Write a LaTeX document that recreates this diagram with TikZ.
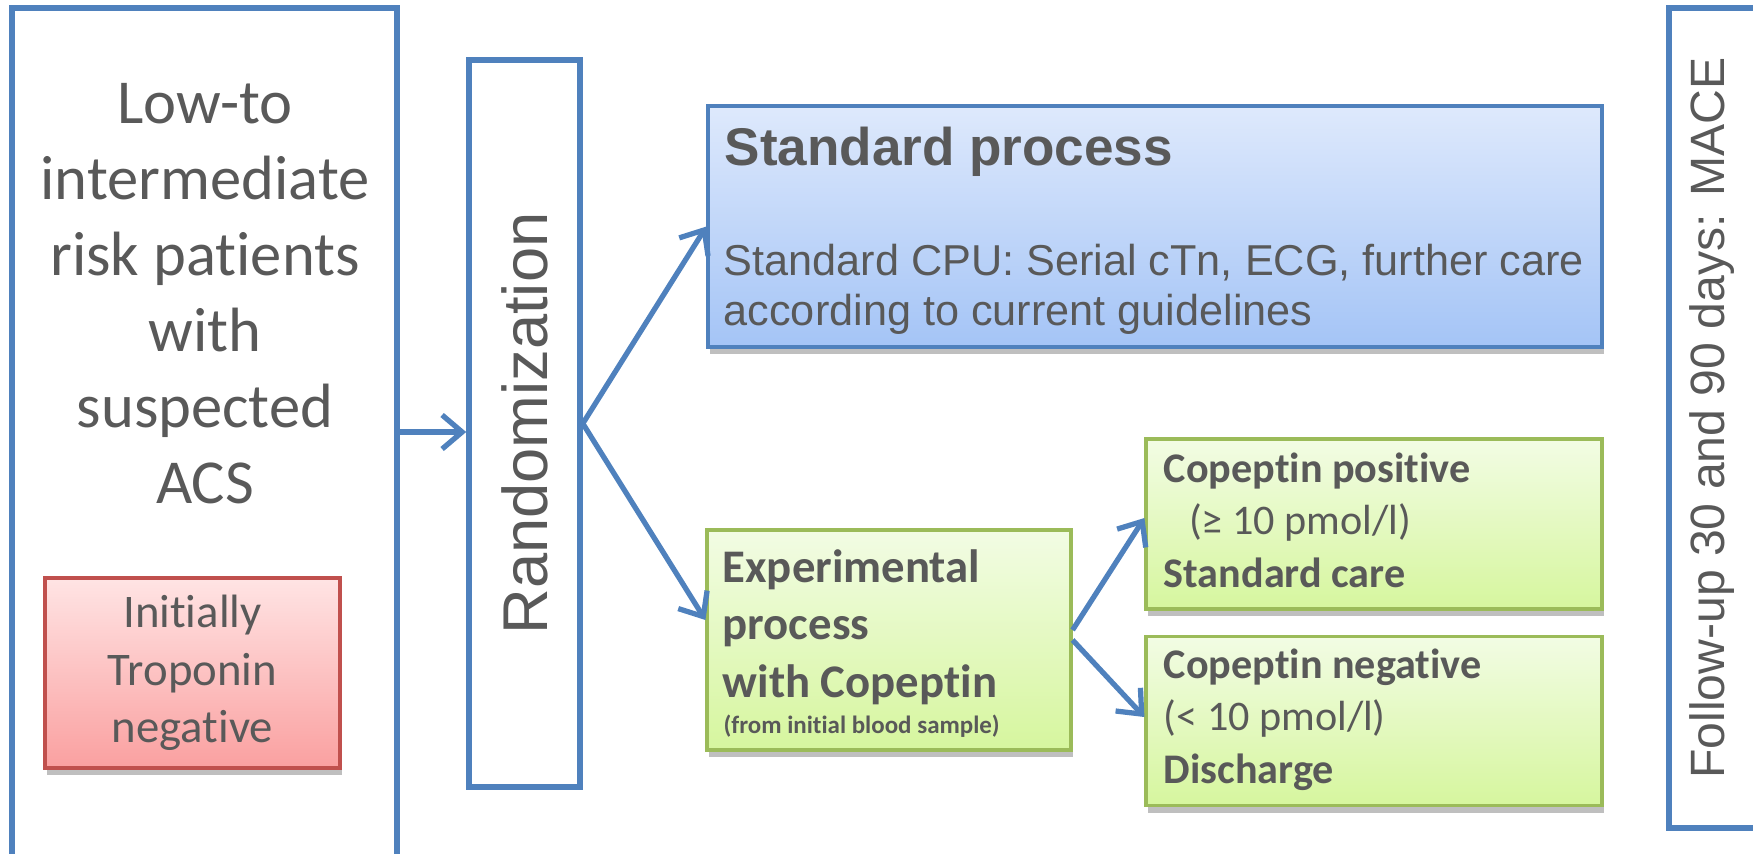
\documentclass[tikz,border=0pt]{standalone}
\usepackage{fontspec}
\setmainfont{Carlito}[RawFeature={-liga;-clig;-calt;-dlig}]
\newfontfamily\arialfont{Liberation Sans}
\usetikzlibrary{arrows.meta,shadows}
\definecolor{lineblue}{HTML}{4F81BD}
\definecolor{txtgray}{HTML}{595959}
\definecolor{pinkedge}{HTML}{C0504D}
\definecolor{greenedge}{HTML}{9BBB59}
\tikzset{
  frame/.style={draw=lineblue,line width=1.6pt,inner sep=0pt},
  shade box/.style={line width=.9pt,inner sep=0pt,
    drop shadow={shadow xshift=.2mm,shadow yshift=-.7mm,opacity=.25,fill=black}},
  bluebox/.style={shade box,draw=lineblue,top color={rgb,255:red,222;green,233;blue,252},bottom color={rgb,255:red,164;green,196;blue,246}},
  greenbox/.style={shade box,draw=greenedge,top color={rgb,255:red,242;green,252;blue,228},bottom color={rgb,255:red,214;green,246;blue,158}},
  pinkbox/.style={shade box,draw=pinkedge,top color={rgb,255:red,255;green,228;blue,228},bottom color={rgb,255:red,250;green,160;blue,160}},
  arr/.style={draw=lineblue,line width=1.5pt,-{Straight Barb[length=2mm,width=3.4mm]}}
}
\begin{document}
\begin{tikzpicture}[x=.1mm,y=-.1mm,text=txtgray]
\useasboundingbox (0,0) rectangle (1753,853);
\clip (0,0) rectangle (1753,853);
% patients and randomization
\node[frame,minimum width=38.5mm,minimum height=89.2mm] (patients) at (204.5,454) {};
\node[anchor=base,align=center,font=\fontsize{17.8}{21.6}\selectfont] (risktxt) at (205,503)
  {Low-to\\intermediate\\risk patients\\with\\suspected\\ACS};
\node[pinkbox,minimum width=29.5mm,minimum height=19mm,align=center,
  font=\fontsize{13.3}{16.4}\selectfont] (tropneg) at (192.5,673) {Initially\\Troponin\\negative};
\node[frame,rotate=90,minimum width=72.7mm,minimum height=11.1mm,
  font=\arialfont\fontsize{18}{20}\selectfont] (rand) at (524.5,423.5) {Randomization};
\coordinate (randin) at ([yshift=-.85mm]rand.north);
% standard arm
\node[bluebox,minimum width=89.4mm,minimum height=24.1mm] (std) at (1155,226.5) {};
\node[anchor=base west,inner sep=0pt,font=\arialfont\bfseries\fontsize{15.1}{18}\selectfont] (stdtitle) at (724,165) {Standard process};
\node[anchor=base west,inner sep=0pt,align=left,font=\arialfont\fontsize{12.3}{14.2}\selectfont] (stdtxt) at (723,325)
  {Standard CPU: Serial cTn, ECG, further care\\according to current guidelines};
% experimental arm
\node[greenbox,minimum width=36.4mm,minimum height=22mm] (exp) at (889,640) {};
\node[anchor=base west,inner sep=0pt,align=left,font=\bfseries\fontsize{13.3}{16.3}\selectfont] (exptxt) at (722,697)
  {Experimental\\process\\with Copeptin};
\node[anchor=base west,inner sep=0pt,font=\bfseries\fontsize{7.1}{8}\selectfont] (expnote) at (723,733) {(from initial blood sample)};
\node[greenbox,minimum width=45.6mm,minimum height=17mm] (pos) at (1374,524) {};
\node[anchor=base west,inner sep=0pt,align=left,font=\fontsize{12}{14.8}\selectfont] (postxt) at (1163,587)
  {\textbf{Copeptin positive}\\\hspace{.6em}(≥ 10 pmol/l)\\\textbf{Standard care}};
\node[greenbox,minimum width=45.6mm,minimum height=16.9mm] (neg) at (1374,721) {};
\node[anchor=base west,inner sep=0pt,align=left,font=\fontsize{12}{14.8}\selectfont] (negtxt) at (1163,783)
  {\textbf{Copeptin negative}\\(< 10 pmol/l)\\\textbf{Discharge}};
% follow-up
\node[frame,minimum width=13.1mm,minimum height=82mm] (follow) at (1734.5,418) {};
\node[rotate=90,font=\arialfont\fontsize{13.7}{16}\selectfont] (followtxt) at (1712,418) {Follow-up 30 and 90 days: MACE};
% arrows
\draw[arr] (patients.east |- randin) -- (randin);
\draw[arr] (rand.south) -- (std.west);
\draw[arr] (rand.south) -- ([yshift=2mm]exp.west);
\draw[arr] ([yshift=1mm]exp.east) -- ([yshift=.6mm]pos.west);
\draw[arr] (exp.east) -- ([yshift=.4mm]neg.west);
\end{tikzpicture}
\end{document}
